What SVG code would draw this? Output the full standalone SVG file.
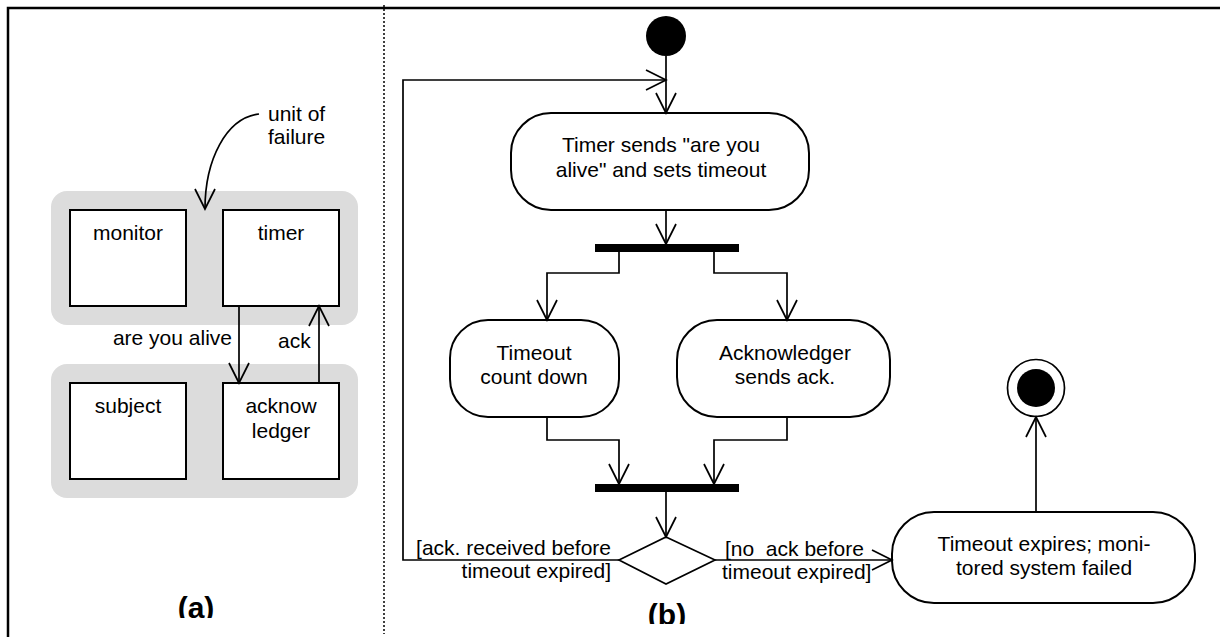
<svg xmlns="http://www.w3.org/2000/svg" width="1220" height="637" viewBox="0 0 1220 637">
  <style>
    text { font-family: "Liberation Sans", Arial, sans-serif; font-size: 21px; fill: #000; }
    .mid { text-anchor: middle; }
    .end { text-anchor: end; }
    .cap { font-weight: bold; font-size: 30px; text-anchor: middle; }
    .box { fill: #fff; stroke: #000; stroke-width: 2; }
    .unit { fill: #dcdcdc; stroke: none; }
    .act { fill: #fff; stroke: #000; stroke-width: 2; }
    .bar { fill: #000; }
    .edge { fill: none; stroke: #000; stroke-width: 1.7; }
    .arr { marker-end: url(#open); }
  </style>
  <defs>
    <marker id="open" markerUnits="userSpaceOnUse" markerWidth="24" markerHeight="24" viewBox="-22 -12 24 24" refX="0" refY="0" orient="auto" overflow="visible">
      <path d="M -20 -10 L 0 0 L -20 10" fill="none" stroke="#000" stroke-width="1.7"/>
    </marker>
    <clipPath id="clipA"><rect x="0" y="0" width="1220" height="618"/></clipPath>
    <clipPath id="clipB"><rect x="0" y="0" width="1220" height="624"/></clipPath>
  </defs>

  <rect x="0" y="0" width="1220" height="637" fill="#fff"/>

  <!-- frame and divider -->
  <path d="M 8 637 L 8 8 L 1220 8" fill="none" stroke="#000" stroke-width="2.5"/>
  <line x1="384" y1="5" x2="384" y2="634" stroke="#000" stroke-width="1.5" stroke-dasharray="2 2"/>

  <!-- (a) units of failure -->
  <g id="unit-top"><rect class="unit" x="51" y="191" width="307" height="134" rx="16"/></g>
  <g id="unit-bottom"><rect class="unit" x="51" y="364" width="307" height="134" rx="16"/></g>

  <g id="monitor">
    <rect class="box" x="70" y="210" width="116" height="96"/>
    <text class="mid" x="128" y="240">monitor</text>
  </g>
  <g id="timer">
    <rect class="box" x="223" y="210" width="116" height="96"/>
    <text class="mid" x="281" y="240">timer</text>
  </g>
  <g id="subject">
    <rect class="box" x="70" y="383" width="116" height="96"/>
    <text class="mid" x="128" y="413">subject</text>
  </g>
  <g id="acknowledger">
    <rect class="box" x="223" y="383" width="116" height="96"/>
    <text class="mid" x="281" y="413">acknow</text>
    <text class="mid" x="281" y="438">ledger</text>
  </g>

  <g id="note-unit">
    <text x="268" y="121">unit of</text>
    <text x="268" y="144">failure</text>
  </g>

  <g id="connectors-a">
    <path class="edge arr" d="M 259 114 C 226 118 205 160 205 209"/>
    <path class="edge arr" d="M 239 306 L 239 383"/>
    <path class="edge arr" d="M 319 383 L 319 306"/>
    <text class="end" x="232" y="345">are you alive</text>
    <text x="278" y="348">ack</text>
  </g>

  <g id="label-a" clip-path="url(#clipA)"><text class="cap" x="196" y="618">(a)</text></g>

  <!-- (b) activity diagram -->
  <g id="start"><circle cx="666" cy="36" r="20" fill="#000"/></g>

  <g id="send">
    <rect class="act" x="511" y="113" width="298" height="97" rx="40"/>
    <text class="mid" x="661" y="152">Timer sends "are you</text>
    <text class="mid" x="661" y="177">alive" and sets timeout</text>
  </g>

  <g id="fork"><rect class="bar" x="595" y="244" width="144" height="8"/></g>

  <g id="countdown">
    <rect class="act" x="450" y="320" width="169" height="97" rx="38"/>
    <text class="mid" x="534" y="360">Timeout</text>
    <text class="mid" x="534" y="384">count down</text>
  </g>

  <g id="ack-sent">
    <rect class="act" x="677" y="320" width="213" height="97" rx="40"/>
    <text class="mid" x="785" y="360">Acknowledger</text>
    <text class="mid" x="785" y="384">sends ack.</text>
  </g>

  <g id="join"><rect class="bar" x="595" y="484" width="144" height="8"/></g>

  <g id="decision"><path d="M 666 537 L 715 560 L 666 584 L 619 560 Z" fill="#fff" stroke="#000" stroke-width="1.7"/></g>

  <g id="failed">
    <rect class="act" x="892" y="512" width="303" height="91" rx="42"/>
    <text class="mid" x="1044" y="551">Timeout expires; moni-</text>
    <text class="mid" x="1044" y="575">tored system failed</text>
  </g>

  <g id="final">
    <circle cx="1036" cy="388" r="28.5" fill="#fff" stroke="#000" stroke-width="1.7"/>
    <circle cx="1036" cy="388" r="19" fill="#000"/>
  </g>

  <g id="connectors-b">
    <path class="edge arr" d="M 666 56 L 666 113"/>
    <path class="edge arr" d="M 619 560 L 403 560 L 403 80 L 666 80"/>
    <path class="edge arr" d="M 666 210 L 666 244"/>
    <path class="edge arr" d="M 619 252 L 619 273 L 547 273 L 547 320"/>
    <path class="edge arr" d="M 714 252 L 714 273 L 787 273 L 787 320"/>
    <path class="edge arr" d="M 547 417 L 547 440 L 619 440 L 619 484"/>
    <path class="edge arr" d="M 787 417 L 787 440 L 714 440 L 714 484"/>
    <path class="edge arr" d="M 666 492 L 666 537"/>
    <path class="edge arr" d="M 715 560 L 892 560"/>
    <path class="edge arr" d="M 1036 512 L 1036 417"/>
    <text class="end" x="611" y="555">[ack. received before</text>
    <text class="end" x="611" y="578">timeout expired]</text>
    <text x="725" y="556">[no&#160; ack before</text>
    <text x="722" y="579">timeout expired]</text>
  </g>

  <g id="label-b" clip-path="url(#clipB)"><text class="cap" x="667" y="625">(b)</text></g>
</svg>
